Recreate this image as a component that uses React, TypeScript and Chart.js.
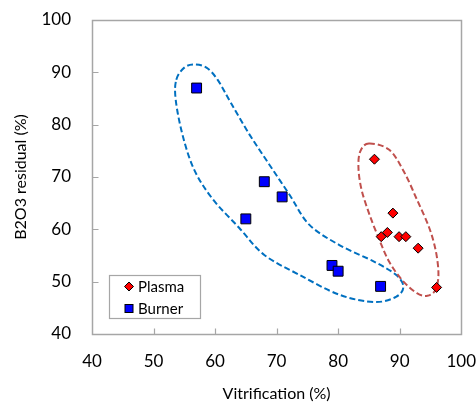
import React, { useEffect, useRef } from "react";
import { Chart, registerables } from "chart.js";

Chart.register(...registerables);

// ---- data ----
const plasmaX = [85.9, 88.9, 87.0, 88.0, 89.9, 91.0, 93.0, 96.0];
const plasmaY = [73.4, 63.1, 58.6, 59.4, 58.6, 58.6, 56.4, 48.9];
const burnerX = [57.0, 65.0, 68.0, 70.9, 79.0, 80.0, 86.9];
const burnerY = [87.0, 62.0, 69.1, 66.2, 53.1, 52.0, 49.1];

// dashed group outlines (data coordinates)
const burnerOutlineX = [53.7, 55.0, 56.6, 58.6, 60.4, 62.7, 65.6, 68.8, 72.1, 75.3, 80.2, 85.9, 89.4, 90.6, 89.4, 85.9, 80.2, 73.7, 68.0, 63.9, 59.6, 56.6, 54.7, 53.6];
const burnerOutlineY = [88.6, 90.9, 91.5, 90.9, 88.6, 83.9, 78.1, 72.4, 66.6, 60.9, 57.0, 53.8, 51.3, 49.0, 47.1, 46.1, 47.5, 51.3, 55.1, 60.3, 65.8, 71.4, 78.1, 84.8];
const plasmaOutlineX = [85.0, 88.3, 90.7, 92.8, 94.8, 95.9, 96.3, 95.8, 94.5, 92.8, 90.4, 88.3, 86.7, 85.1, 83.8, 83.3, 83.6];
const plasmaOutlineY = [76.4, 75.2, 71.0, 65.7, 60.3, 55.7, 51.3, 48.4, 47.3, 47.8, 50.3, 53.8, 58.0, 62.8, 67.6, 71.8, 74.9];

const xTicks = [40, 50, 60, 70, 80, 90, 100];
const yTicks = [40, 50, 60, 70, 80, 90, 100];
const seriesNames = ["Plasma", "Burner"];

const FONT = "Lato, 'Open Sans', sans-serif";

function zip(xs: number[], ys: number[]) {
  return xs.map((x, i) => ({ x, y: ys[i] }));
}

function drawClosedCurve(ctx: CanvasRenderingContext2D, pts: { x: number; y: number }[]) {
  const n = pts.length;
  ctx.beginPath();
  ctx.moveTo(pts[0].x, pts[0].y);
  for (let i = 0; i < n; i++) {
    const p0 = pts[(i - 1 + n) % n];
    const p1 = pts[i];
    const p2 = pts[(i + 1) % n];
    const p3 = pts[(i + 2) % n];
    const c1x = p1.x + (p2.x - p0.x) / 6;
    const c1y = p1.y + (p2.y - p0.y) / 6;
    const c2x = p2.x - (p3.x - p1.x) / 6;
    const c2y = p2.y - (p3.y - p1.y) / 6;
    ctx.bezierCurveTo(c1x, c1y, c2x, c2y, p2.x, p2.y);
  }
  ctx.closePath();
  ctx.stroke();
}

const decorPlugin = {
  id: "decor",
  beforeDatasetsDraw(chart: any) {
    const { ctx, chartArea, scales } = chart;
    const xs = scales.x;
    const ys = scales.y;
    ctx.save();
    // frame
    ctx.strokeStyle = "#A6A6A6";
    ctx.lineWidth = 1.5;
    const l = Math.round(chartArea.left) + 0.5;
    const t = Math.round(chartArea.top) + 0.5;
    const r = Math.round(chartArea.right) + 0.5;
    const b = Math.round(chartArea.bottom) + 0.5;
    ctx.strokeRect(l, t, r - l, b - t);
    // inner ticks
    ctx.lineWidth = 1.2;
    ctx.beginPath();
    xTicks.slice(1, -1).forEach((v) => {
      const px = Math.round(xs.getPixelForValue(v)) + 0.5;
      ctx.moveTo(px, b);
      ctx.lineTo(px, b - 6);
    });
    yTicks.slice(1, -1).forEach((v) => {
      const py = Math.round(ys.getPixelForValue(v)) + 0.5;
      ctx.moveTo(l, py);
      ctx.lineTo(l + 6, py);
    });
    ctx.stroke();
    // outlines
    ctx.lineWidth = 2;
    ctx.setLineDash([6, 3]);
    ctx.strokeStyle = "#0070C0";
    drawClosedCurve(
      ctx,
      zip(burnerOutlineX, burnerOutlineY).map((p) => ({ x: xs.getPixelForValue(p.x), y: ys.getPixelForValue(p.y) }))
    );
    ctx.strokeStyle = "#C0504D";
    drawClosedCurve(
      ctx,
      zip(plasmaOutlineX, plasmaOutlineY).map((p) => ({ x: xs.getPixelForValue(p.x), y: ys.getPixelForValue(p.y) }))
    );
    ctx.restore();
  },
  afterDraw(chart: any) {
    const { ctx, chartArea } = chart;
    ctx.save();
    const bx = Math.round(chartArea.left) + 17.5;
    const by = Math.round(chartArea.bottom) - 58.5;
    ctx.fillStyle = "#fff";
    ctx.fillRect(bx, by, 91, 43);
    ctx.strokeStyle = "#A6A6A6";
    ctx.lineWidth = 1.2;
    ctx.strokeRect(bx, by, 91, 43);
    const mx = bx + 19.5;
    const y1 = by + 11;
    const y2 = by + 33;
    // diamond
    ctx.fillStyle = "#FF0000";
    ctx.strokeStyle = "#000";
    ctx.lineWidth = 1;
    ctx.beginPath();
    ctx.moveTo(mx, y1 - 4.5);
    ctx.lineTo(mx + 4.5, y1);
    ctx.lineTo(mx, y1 + 4.5);
    ctx.lineTo(mx - 4.5, y1);
    ctx.closePath();
    ctx.fill();
    ctx.stroke();
    // square
    ctx.fillStyle = "#0000FF";
    ctx.fillRect(mx - 4, y2 - 4, 8, 8);
    ctx.strokeRect(mx - 4, y2 - 4, 8, 8);
    ctx.fillStyle = "#000";
    ctx.font = `15px ${FONT}`;
    ctx.textBaseline = "middle";
    ctx.textAlign = "left";
    ctx.fillText(seriesNames[0], mx + 9, y1 + 1);
    ctx.fillText(seriesNames[1], mx + 9, y2 + 1);
    ctx.restore();
  },
};

export default function App() {
  const ref = useRef<HTMLCanvasElement>(null);
  useEffect(() => {
    if (!ref.current) return;
    const chart = new Chart(ref.current, {
      type: "scatter",
      data: {
        datasets: [
          {
            label: seriesNames[0],
            data: zip(plasmaX, plasmaY),
            pointStyle: "rectRot",
            pointRadius: 5,
            backgroundColor: "#FF0000",
            borderColor: "#000000",
            borderWidth: 1,
          },
          {
            label: seriesNames[1],
            data: zip(burnerX, burnerY),
            pointStyle: "rect",
            pointRadius: 7,
            backgroundColor: "#0000FF",
            borderColor: "#000000",
            borderWidth: 1,
          },
        ],
      },
      options: {
        animation: false,
        responsive: true,
        maintainAspectRatio: false,
        layout: { padding: { top: 20, right: 14, left: 0, bottom: 0 } },
        plugins: { legend: { display: false }, tooltip: { enabled: false } },
        scales: {
          x: {
            type: "linear",
            min: 40,
            max: 100,
            afterFit: (s: any) => {
              s.height = 69;
            },
            afterBuildTicks: (s: any) => {
              s.ticks = xTicks.map((v) => ({ value: v }));
            },
            grid: { display: true, drawOnChartArea: false, drawTicks: true, tickLength: 17, tickColor: "rgba(0,0,0,0)", color: "rgba(0,0,0,0)" },
            border: { display: false },
            ticks: { color: "#000", font: { family: FONT, size: 17 }, padding: 0, maxRotation: 0 },
            title: {
              display: true,
              text: "Vitrification (%)",
              color: "#000",
              font: { family: FONT, size: 16 },
              padding: { top: 0, bottom: 0 },
            },
          },
          y: {
            type: "linear",
            min: 40,
            max: 100,
            afterFit: (s: any) => {
              s.width = 92;
            },
            afterBuildTicks: (s: any) => {
              s.ticks = yTicks.map((v) => ({ value: v }));
            },
            grid: { display: true, drawOnChartArea: false, drawTicks: true, tickLength: 21, tickColor: "rgba(0,0,0,0)", color: "rgba(0,0,0,0)" },
            border: { display: false },
            ticks: { color: "#000", font: { family: FONT, size: 17 }, padding: 0 },
            title: {
              display: true,
              text: "B2O3 residual (%)",
              color: "#000",
              font: { family: FONT, size: 16 },
              padding: { top: 11, bottom: 0 },
            },
          },
        },
      },
      plugins: [decorPlugin],
    });
    return () => chart.destroy();
  }, []);
  return (
    <div style={{ position: "fixed", left: 0, top: 0, width: 476, height: 403, background: "#fff" }}>
      <canvas ref={ref} />
    </div>
  );
}
